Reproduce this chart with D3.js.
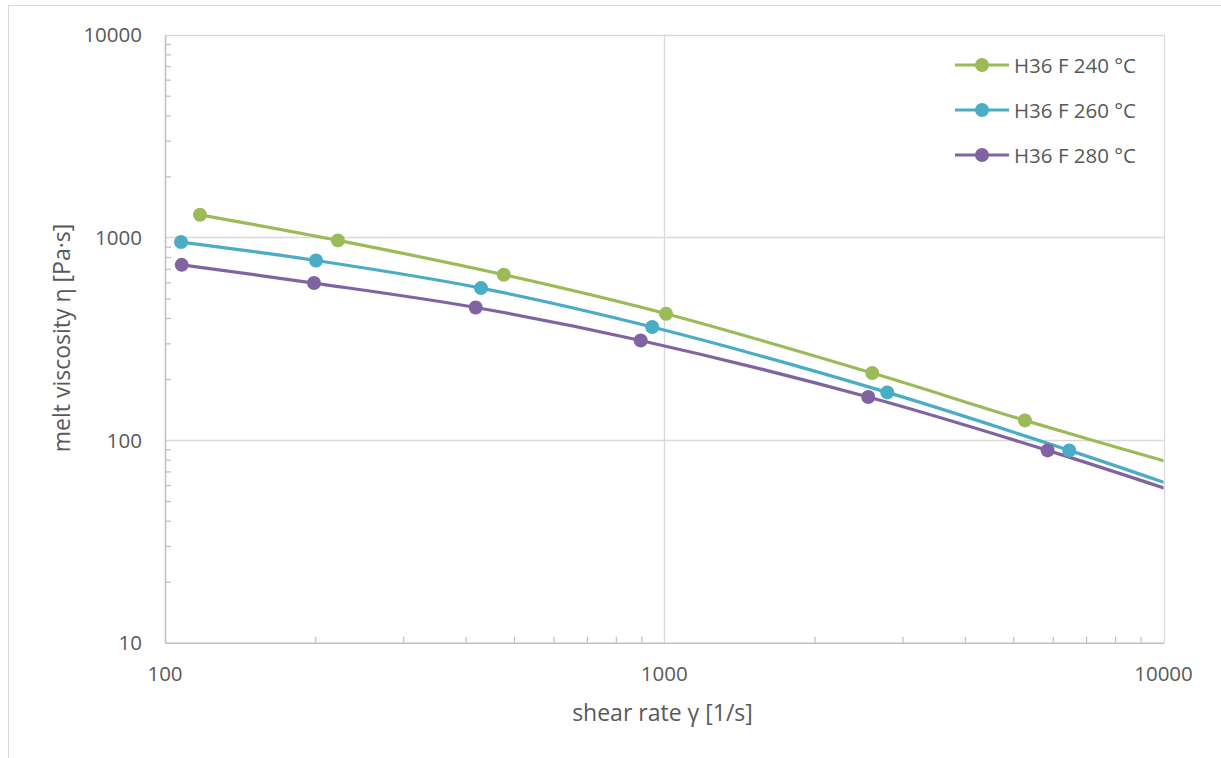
<!DOCTYPE html>
<html>
<head>
<meta charset="utf-8">
<script src="https://cdn.jsdelivr.net/npm/d3@7"></script>
<style>
  html, body { margin: 0; padding: 0; background: #fff; }
  svg { display: block; font-family: "Open Sans", sans-serif; }
</style>
</head>
<body>
<svg id="chart" width="1221" height="758"></svg>
<script>
// ---- data ----
const seriesNames = ["H36 F 240 °C", "H36 F 260 °C", "H36 F 280 °C"];
const seriesColors = ["#9BBB59", "#4BACC6", "#8064A2"];
// shear rate [1/s]
const shear240 = [117.5, 222, 477, 1008, 2610, 5278, 11500];
const shear260 = [107.7, 200.7, 429.5, 946, 2797, 6474, 11500];
const shear280 = [108, 198.8, 419, 897, 2562, 5859, 11500];
// melt viscosity [Pa·s]
const visc240 = [1292, 966, 654, 420, 214, 125, 71.5];
const visc260 = [948, 769, 562, 361, 171.8, 88.9, 55.0];
const visc280 = [732, 595, 451, 310, 163, 88.9, 51.8];
const xTickValues = [100, 1000, 10000];
const yTickValues = [10, 100, 1000, 10000];
const xTitle = "shear rate γ [1/s]";
const yTitle = "melt viscosity η [Pa·s]";

const seriesData = [
  shear240.map((x, i) => ({x, y: visc240[i]})),
  shear260.map((x, i) => ({x, y: visc260[i]})),
  shear280.map((x, i) => ({x, y: visc280[i]}))
];

// ---- layout ----
const svg = d3.select("#chart");
const pLeft = 165, pRight = 1163.5, pTop = 34.7, pBottom = 642.7;
const textColor = "#595959";

const x = d3.scaleLog().domain([100, 10000]).range([pLeft, pRight]);
const y = d3.scaleLog().domain([10, 10000]).range([pBottom, pTop]);

// outer chart frame
svg.append("rect").attr("x", 8.5).attr("y", 5.5).attr("width", 1400).attr("height", 900)
  .attr("fill", "#fff").attr("stroke", "#d9d9d9").attr("stroke-width", 1);

// clip for plot
svg.append("defs").append("clipPath").attr("id", "plotClip")
  .append("rect").attr("x", pLeft).attr("y", pTop - 10).attr("width", pRight - pLeft).attr("height", pBottom - pTop + 20);

// major gridlines
const grid = svg.append("g");
grid.selectAll("line.gx").data(xTickValues.slice(1)).join("line")
  .attr("x1", d => Math.round(x(d)) + 0.5).attr("x2", d => Math.round(x(d)) + 0.5)
  .attr("y1", pTop).attr("y2", pBottom)
  .attr("stroke", "#d9d9d9").attr("stroke-width", 1.3);
grid.selectAll("line.gy").data(yTickValues.slice(1)).join("line")
  .attr("x1", pLeft).attr("x2", pRight)
  .attr("y1", d => Math.round(y(d)) + 0.5).attr("y2", d => Math.round(y(d)) + 0.5)
  .attr("stroke", "#d9d9d9").attr("stroke-width", 1.3);

// minor ticks
const minorVals = [];
for (const dec of [100, 1000]) for (let k = 2; k <= 9; k++) minorVals.push(dec * k);
const minorValsY = [];
for (const dec of [10, 100, 1000]) for (let k = 2; k <= 9; k++) minorValsY.push(dec * k);

const xAxisG = svg.append("g").attr("transform", `translate(0,${pBottom})`);
xAxisG.call(d3.axisBottom(x).tickValues(minorVals).tickSize(-6).tickSizeOuter(0).tickFormat(""));
const yAxisG = svg.append("g").attr("transform", `translate(${pLeft},0)`);
yAxisG.call(d3.axisLeft(y).tickValues(minorValsY).tickSize(-6).tickSizeOuter(0).tickFormat(""));
[xAxisG, yAxisG].forEach(g => {
  g.select(".domain").attr("stroke", "#bfbfbf").attr("stroke-width", 1.5);
  g.selectAll(".tick line").attr("stroke", "#bfbfbf").attr("stroke-width", 1.2);
});

// tick labels
svg.append("g").selectAll("text").data(xTickValues).join("text")
  .attr("x", d => x(d)).attr("y", 681)
  .attr("text-anchor", "middle").attr("fill", textColor).attr("font-size", 20.5)
  .text(d => d);
svg.append("g").selectAll("text").data(yTickValues).join("text")
  .attr("x", 142).attr("y", d => y(d) + 7.5)
  .attr("text-anchor", "end").attr("fill", textColor).attr("font-size", 20.5)
  .text(d => d);

// axis titles
svg.append("text").attr("x", 662.5).attr("y", 721)
  .attr("text-anchor", "middle").attr("fill", textColor).attr("font-size", 23)
  .text(xTitle);
svg.append("text").attr("transform", `translate(70,338) rotate(-90)`)
  .attr("text-anchor", "middle").attr("fill", textColor).attr("font-size", 23)
  .text(yTitle);

// series
const line = d3.line().x(d => x(d.x)).y(d => y(d.y)).curve(d3.curveCatmullRom.alpha(0.5));
const plot = svg.append("g").attr("clip-path", "url(#plotClip)");
seriesData.forEach((data, i) => {
  plot.append("path").datum(data).attr("d", line)
    .attr("fill", "none").attr("stroke", seriesColors[i]).attr("stroke-width", 3.2)
    .attr("stroke-linejoin", "round");
});
seriesData.forEach((data, i) => {
  plot.selectAll(null).data(data.filter(d => d.x <= 10000)).join("circle")
    .attr("cx", d => x(d.x)).attr("cy", d => y(d.y)).attr("r", 7)
    .attr("fill", seriesColors[i]);
});

// legend
const legend = svg.append("g");
seriesNames.forEach((name, i) => {
  const cy = 65 + i * 45;
  legend.append("line").attr("x1", 955).attr("x2", 1009).attr("y1", cy).attr("y2", cy)
    .attr("stroke", seriesColors[i]).attr("stroke-width", 3.2);
  legend.append("circle").attr("cx", 982).attr("cy", cy).attr("r", 7).attr("fill", seriesColors[i]);
  legend.append("text").attr("x", 1014).attr("y", cy + 7.5)
    .attr("fill", textColor).attr("font-size", 20.5).text(name);
});
</script>
</body>
</html>
